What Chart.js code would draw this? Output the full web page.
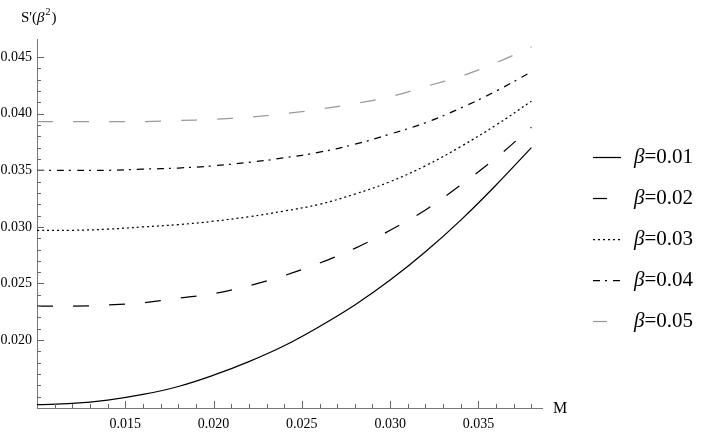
<!DOCTYPE html>
<html lang="en">
<head>
<meta charset="UTF-8">
<title>S'(beta^2) against M</title>
<script src="https://cdn.jsdelivr.net/npm/chart.js"></script>
<style>
body { margin: 0; background: #fff; }
#chart { display: block; }
</style>
</head>
<body>
<canvas id="chart" width="708" height="436"></canvas>
<script>
// values
const massValues = [0.010, 0.012, 0.014, 0.016, 0.018, 0.020, 0.022, 0.024, 0.026, 0.028, 0.030, 0.032, 0.034, 0.036, 0.038];
const beta001 = [0.0143, 0.0144, 0.0147, 0.0152, 0.0159, 0.0169, 0.0181, 0.0195, 0.0212, 0.0231, 0.0253, 0.0278, 0.0306, 0.0337, 0.0370];
const beta002 = [0.0230, 0.0230, 0.0231, 0.0233, 0.0237, 0.0241, 0.0248, 0.0257, 0.0268, 0.0281, 0.0297, 0.0315, 0.0337, 0.0361, 0.0388];
const beta003 = [0.0297, 0.0297, 0.0298, 0.0300, 0.0302, 0.0305, 0.0309, 0.0314, 0.0320, 0.0329, 0.0340, 0.0354, 0.0371, 0.0390, 0.0411];
const beta004 = [0.0350, 0.0350, 0.0350, 0.0351, 0.0352, 0.0354, 0.0357, 0.0361, 0.0366, 0.0373, 0.0382, 0.0392, 0.0405, 0.0420, 0.0437];
const beta005 = [0.0393, 0.0393, 0.0393, 0.0393, 0.0394, 0.0395, 0.0397, 0.0400, 0.0404, 0.0409, 0.0415, 0.0424, 0.0433, 0.0445, 0.0459];
const betaLabels = ['0.01', '0.02', '0.03', '0.04', '0.05'];

// axis ticks
const xMajorTicks = [0.015, 0.020, 0.025, 0.030, 0.035];
const xMinorTicks = [0.011, 0.012, 0.013, 0.014, 0.016, 0.017, 0.018, 0.019, 0.021, 0.022, 0.023, 0.024,
                     0.026, 0.027, 0.028, 0.029, 0.031, 0.032, 0.033, 0.034, 0.036, 0.037, 0.038];
const yMajorTicks = [0.020, 0.025, 0.030, 0.035, 0.040, 0.045];
const yMinorTicks = [0.015, 0.016, 0.017, 0.018, 0.019, 0.021, 0.022, 0.023, 0.024, 0.026, 0.027, 0.028, 0.029,
                     0.031, 0.032, 0.033, 0.034, 0.036, 0.037, 0.038, 0.039, 0.041, 0.042, 0.043, 0.044];

const serif = "'Liberation Serif', 'DejaVu Serif', serif";
const axisGray = '#777';

function pairs(ys) {
    return massValues.map((m, i) => ({ x: m, y: ys[i] }));
}

const styles = [
    { data: beta001, color: '#000', dash: [] },
    { data: beta002, color: '#000', dash: [16, 20] },
    { data: beta003, color: '#000', dash: [2, 3] },
    { data: beta004, color: '#000', dash: [7, 5, 2, 6] },
    { data: beta005, color: '#9a9a9a', dash: [16, 20] }
];

const datasets = styles.map((s, i) => ({
    label: 'β=' + betaLabels[i],
    data: pairs(s.data),
    borderColor: s.color,
    borderDash: s.dash,
    borderWidth: 1.25,
    pointRadius: 0,
    fill: false,
    tension: 0.4
}));

// inward tick marks, axis names and the legend
const decorations = {
    id: 'decorations',
    afterDraw(chart) {
        const { ctx, chartArea, scales: { x, y } } = chart;
        ctx.save();
        ctx.strokeStyle = '#666';
        ctx.lineWidth = 1;
        ctx.setLineDash([]);
        const tick = (px, py, dx, dy) => {
            ctx.beginPath();
            ctx.moveTo(px, py);
            ctx.lineTo(px + dx, py + dy);
            ctx.stroke();
        };
        const xb = Math.round(chartArea.bottom);
        const yl = Math.round(chartArea.left);
        xMinorTicks.forEach(v => tick(Math.round(x.getPixelForValue(v)) + 0.5, xb, 0, -4));
        xMajorTicks.forEach(v => tick(Math.round(x.getPixelForValue(v)) + 0.5, xb, 0, -7));
        yMinorTicks.forEach(v => tick(yl, Math.round(y.getPixelForValue(v)) + 0.5, 4, 0));
        yMajorTicks.forEach(v => tick(yl, Math.round(y.getPixelForValue(v)) + 0.5, 7, 0));

        // axis names
        ctx.fillStyle = '#000';
        ctx.textBaseline = 'alphabetic';
        ctx.textAlign = 'left';
        ctx.font = '15px ' + serif;
        ctx.fillText("S'(", 21, 22);
        let w = ctx.measureText("S'(").width;
        ctx.font = 'italic 15px ' + serif;
        ctx.fillText('β', 21 + w, 22);
        w += ctx.measureText('β').width;
        ctx.font = '10px ' + serif;
        ctx.fillText('2', 22 + w, 15);
        w += ctx.measureText('2').width + 1;
        ctx.font = '15px ' + serif;
        ctx.fillText(')', 22 + w, 22);

        ctx.font = '16px ' + serif;
        ctx.textBaseline = 'middle';
        ctx.fillText('M', chartArea.right + 11, chartArea.bottom + 1);

        // legend
        chart.data.datasets.forEach((ds, i) => {
            const rowY = 157 + i * 41;
            ctx.strokeStyle = ds.borderColor;
            ctx.lineWidth = 1.25;
            ctx.setLineDash(ds.borderDash);
            const len = ds.borderDash.length && ds.borderDash[0] === 16 ? 14 : 28;
            ctx.beginPath();
            ctx.moveTo(593, rowY + 0.5);
            ctx.lineTo(593 + len, rowY + 0.5);
            ctx.stroke();
            ctx.setLineDash([]);
            ctx.font = 'italic 21px ' + serif;
            ctx.fillText('β', 634, rowY);
            const bw = ctx.measureText('β').width;
            ctx.font = '21px ' + serif;
            ctx.fillText('=' + betaLabels[i], 634 + bw, rowY);
        });
        ctx.restore();
    }
};

const ctx = document.getElementById('chart').getContext('2d');
const chart = new Chart(ctx, {
    type: 'line',
    data: { datasets: datasets },
    options: {
        responsive: false,
        animation: false,
        layout: { padding: { top: 39, right: 166, bottom: 0, left: 0 } },
        plugins: { legend: { display: false }, tooltip: { enabled: false } },
        scales: {
            x: {
                type: 'linear',
                min: 0.010,
                max: 0.0386,
                grid: { display: false, drawTicks: false },
                border: { display: true, color: axisGray, width: 1 },
                afterBuildTicks: s => { s.ticks = xMajorTicks.map(v => ({ value: v })); },
                afterFit: s => { s.height = 28; },
                ticks: {
                    autoSkip: false,
                    maxRotation: 0,
                    padding: 8,
                    color: '#000',
                    font: { family: serif, size: 14 },
                    callback: v => v.toFixed(3)
                }
            },
            y: {
                type: 'linear',
                min: 0.0140,
                max: 0.0466,
                grid: { display: false, drawTicks: false },
                border: { display: true, color: axisGray, width: 1 },
                afterBuildTicks: s => { s.ticks = yMajorTicks.map(v => ({ value: v })); },
                afterFit: s => { s.width = 37; },
                ticks: {
                    autoSkip: false,
                    padding: 5,
                    color: '#000',
                    font: { family: serif, size: 14 },
                    callback: v => v.toFixed(3)
                }
            }
        }
    },
    plugins: [decorations]
});
</script>
</body>
</html>
